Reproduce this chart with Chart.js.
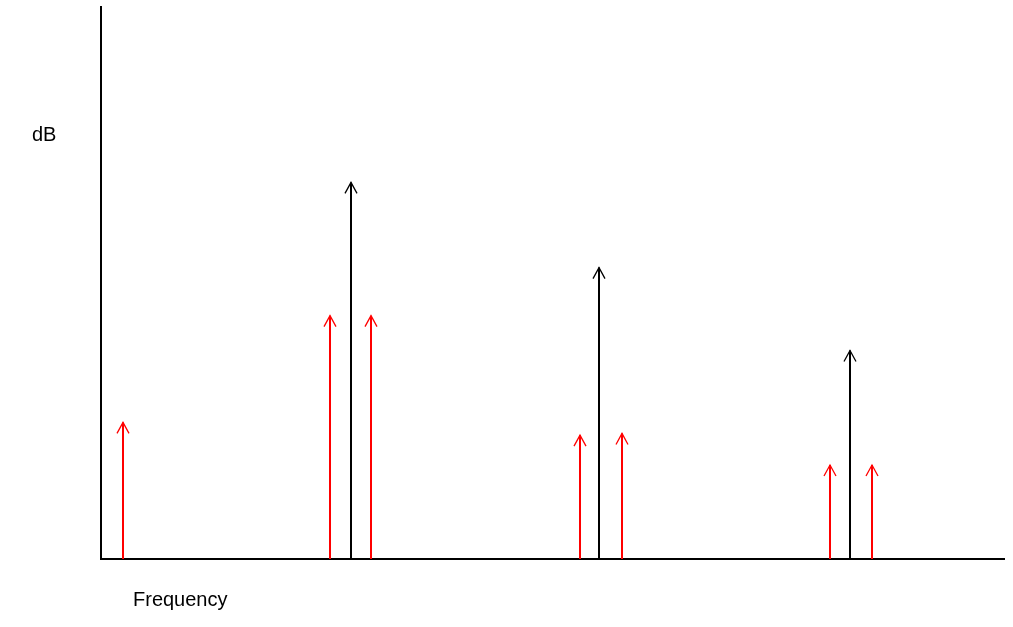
<!DOCTYPE html>
<html>
<head>
<meta charset="utf-8">
<script src="https://cdn.jsdelivr.net/npm/chart.js@4/dist/chart.umd.min.js"></script>
<style>
  body { margin: 0; background: #fff; }
  #wrap { width: 1013px; height: 627px; position: relative; }
</style>
</head>
<body>
<div id="wrap"><canvas id="myChart"></canvas></div>
<script>
// frequency positions and levels of the sidebands (red) and carriers (black)
var sideFreq  = [22, 229, 270, 479, 521, 729, 771];
var sideLevel = [24.7, 44.0, 44.0, 22.4, 22.7, 17.0, 17.0];
var carrierFreq  = [250, 498, 749];
var carrierLevel = [68.1, 52.7, 37.7];

var yLabel = 'dB';
var xLabel = 'Frequency';

function toPoints(xs, ys) {
    var pts = [];
    for (var i = 0; i < xs.length; i++) pts.push({ x: xs[i], y: ys[i] });
    return pts;
}

// draws axes, labels and an arrow from zero up to each point
var arrowPlugin = {
    id: 'arrows',
    afterDatasetsDraw: function (chart) {
        var ctx = chart.ctx;
        var area = chart.chartArea;
        var yScale = chart.scales.y;
        var base = yScale.getPixelForValue(0);

        ctx.save();
        ctx.strokeStyle = '#000';
        ctx.lineWidth = 2;
        ctx.beginPath();
        ctx.moveTo(area.left, area.top);
        ctx.lineTo(area.left, base + 1);
        ctx.moveTo(area.left - 1, base);
        ctx.lineTo(area.right, base);
        ctx.stroke();

        chart.data.datasets.forEach(function (ds, i) {
            var meta = chart.getDatasetMeta(i);
            ctx.strokeStyle = ds.borderColor;
            meta.data.forEach(function (pt) {
                ctx.lineWidth = 2;
                ctx.beginPath();
                ctx.moveTo(pt.x, base);
                ctx.lineTo(pt.x, pt.y);
                ctx.stroke();
                ctx.lineWidth = 1.3;
                ctx.beginPath();
                ctx.moveTo(pt.x - 6, pt.y + 11);
                ctx.lineTo(pt.x, pt.y);
                ctx.lineTo(pt.x + 6, pt.y + 11);
                ctx.stroke();
            });
        });

        ctx.fillStyle = '#000';
        ctx.font = '20px "Liberation Sans", Arial, sans-serif';
        ctx.textBaseline = 'alphabetic';
        ctx.fillText(yLabel, 32, 141);
        ctx.fillText(xLabel, 133, 606);
        ctx.restore();
    }
};

var config = {
    type : 'scatter',
    data : {
        datasets : [{
            label : 'sidebands',
            data : toPoints(sideFreq, sideLevel),
            borderColor : '#ff0000',
            backgroundColor : '#ff0000',
            pointRadius : 0,
            pointHoverRadius : 0
        }, {
            label : 'carriers',
            data : toPoints(carrierFreq, carrierLevel),
            borderColor : '#000000',
            backgroundColor : '#000000',
            pointRadius : 0,
            pointHoverRadius : 0
        }]
    },
    options : {
        responsive : true,
        maintainAspectRatio : false,
        animation : false,
        events : [],
        layout : {
            padding : { left : 101, right : 8, top : 6, bottom : 68 }
        },
        plugins : {
            legend : { display : false },
            tooltip : { enabled : false }
        },
        scales : {
            x : { type : 'linear', min : 0, max : 904, display : false },
            y : { type : 'linear', min : 0, max : 100, display : false }
        }
    },
    plugins : [arrowPlugin]
};

var myChart = new Chart(document.getElementById('myChart'), config);
</script>
</body>
</html>
